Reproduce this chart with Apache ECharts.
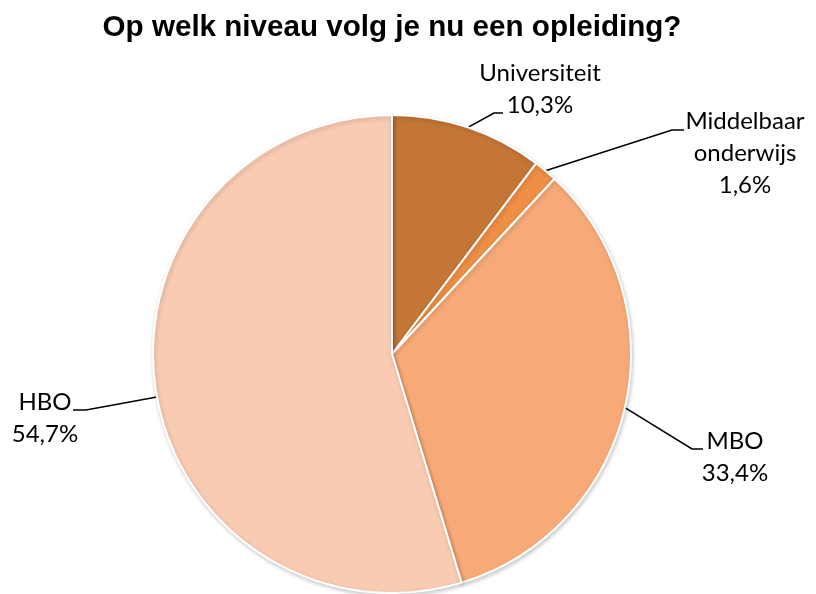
<!DOCTYPE html>
<html>
<head>
<meta charset="utf-8">
<script src="https://cdn.jsdelivr.net/npm/echarts@6/dist/echarts.min.js"></script>
<style>
  html, body { margin: 0; padding: 0; background: #fff; }
  #chart { width: 816px; height: 594px; }
</style>
</head>
<body>
<div id="chart"></div>
<script>
const categories = ["Universiteit", "Middelbaar\nonderwijs", "MBO", "HBO"];
const percentages = [10.3, 1.6, 33.4, 54.7];
const sliceColors = ["#C47637", "#EE8F45", "#F7AA78", "#F8CBB2"];

// pie geometry (px)
const cx = 392, cy = 354, radius = 239;

// label block centre, end of the leader line and which side the short tick points to
const labelPos = [
  { x: 540, y: 89, end: [503, 113], tick: -9, near: false },
  { x: 745, y: 153, end: [684, 130], tick: -12, near: false },
  { x: 735, y: 457, end: [703, 449], tick: -11, near: false },
  { x: 45, y: 418, end: [73, 410], tick: 13, near: true }
];

const chart = echarts.init(document.getElementById("chart"));

const option = {
  animation: false,
  title: {
    text: "Op welk niveau volg je nu een opleiding?",
    left: 387,
    top: 8,
    textAlign: "center",
    textStyle: {
      fontFamily: "Liberation Sans",
      fontWeight: "bold",
      fontSize: 29.6,
      color: "#000"
    }
  },
  series: [
    {
      type: "pie",
      center: [cx, cy],
      radius: radius,
      startAngle: 90,
      clockwise: true,
      avoidLabelOverlap: false,
      itemStyle: {
        borderColor: "#fff",
        borderWidth: 2,
        shadowBlur: 4,
        shadowOffsetX: 1,
        shadowOffsetY: 2,
        shadowColor: "rgba(0,0,0,0.2)"
      },
      label: {
        show: true,
        position: "outside",
        fontFamily: "Lato",
        fontSize: 24,
        lineHeight: 32,
        color: "#000",
        formatter: function (p) {
          return p.name + "\n" + p.value.toFixed(1).replace(".", ",") + "%";
        }
      },
      labelLine: {
        show: true,
        length: 20,
        length2: 10,
        lineStyle: { color: "#000", width: 1.6 }
      },
      labelLayout: function (params) {
        const pos = labelPos[params.dataIndex];
        const elbow = [pos.end[0] + pos.tick, pos.end[1]];
        let start = params.labelLinePoints[0];
        if (pos.near) {
          const dx = elbow[0] - cx, dy = elbow[1] - cy;
          const d = Math.sqrt(dx * dx + dy * dy);
          start = [cx + dx / d * radius, cy + dy / d * radius];
        }
        return {
          x: pos.x,
          y: pos.y,
          align: "center",
          verticalAlign: "middle",
          labelLinePoints: [start, elbow, pos.end]
        };
      },
      data: categories.map(function (c, i) {
        return { name: c, value: percentages[i], itemStyle: { color: sliceColors[i] } };
      })
    }
  ]
};

chart.setOption(option);
</script>
</body>
</html>
